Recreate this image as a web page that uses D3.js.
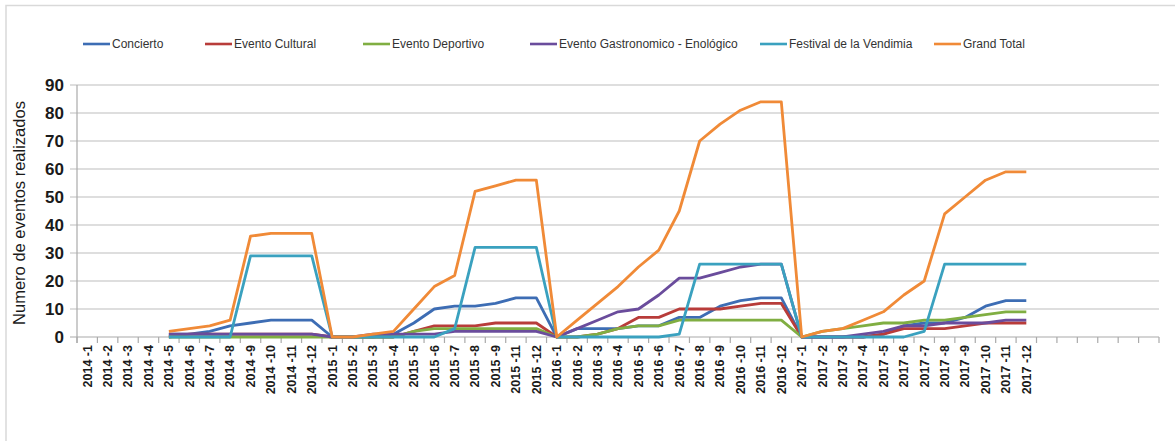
<!DOCTYPE html>
<html lang="es">
<head>
  <meta charset="UTF-8">
  <title>Eventos realizados</title>
  <style>
    html, body {
      margin: 0;
      padding: 0;
      background-color: #fff;
    }

    .grid line {
      stroke: rgb(190, 190, 190);
      stroke-width: 1.2;
    }

    .axis-line {
      stroke: rgb(170, 170, 170);
      stroke-width: 1.2;
    }

    .y-labels text {
      font-family: "Liberation Sans", Arial, sans-serif;
      font-size: 17px;
      font-weight: bold;
      fill: #1a1a1a;
    }

    .x-labels text {
      font-family: "Liberation Sans", Arial, sans-serif;
      font-size: 12.5px;
      font-weight: bold;
      fill: #1a1a1a;
    }

    .legend text {
      font-family: "Liberation Sans", Arial, sans-serif;
      font-size: 12px;
      fill: #333;
    }

    .series {
      fill: none;
      stroke-width: 2.8;
      stroke-linejoin: round;
    }
  </style>
</head>
<body>
  <script src="https://cdn.jsdelivr.net/npm/d3@7/dist/d3.min.js"></script>
  <script>
    // categories (Excel month labels), 2015-10 is missing in the source
    const months2014 = ['2014 -1', '2014 -2', '2014 -3', '2014 -4', '2014 -5', '2014 -6', '2014 -7', '2014 -8', '2014 -9', '2014 -10', '2014 -11', '2014 -12']
    const months2015 = ['2015 -1', '2015 -2', '2015 -3', '2015 -4', '2015 -5', '2015 -6', '2015 -7', '2015 -8', '2015 -9', '2015 -11', '2015 -12']
    const months2016 = ['2016 -1', '2016 -2', '2016 -3', '2016 -4', '2016 -5', '2016 -6', '2016 -7', '2016 -8', '2016 -9', '2016 -10', '2016 -11', '2016 -12']
    const months2017 = ['2017 -1', '2017 -2', '2017 -3', '2017 -4', '2017 -5', '2017 -6', '2017 -7', '2017 -8', '2017 -9', '2017 -10', '2017 -11', '2017 -12']
    const emptyMonths = ['', '', '', '', '', '']
    const categories = [...months2014, ...months2015, ...months2016, ...months2017, ...emptyMonths]

    const yTicks = [0, 10, 20, 30, 40, 50, 60, 70, 80, 90]

    const seriesNames = ['Concierto', 'Evento Cultural', 'Evento Deportivo', 'Evento Gastronomico - Enológico', 'Festival de la Vendimia', 'Grand Total']

    // values per series, null = no data (2014-1 .. 2014-4)
    const n = null
    const concierto = [n, n, n, n, 1, 1, 2, 4, 5, 6, 6, 6,
      0, 0, 0, 1, 5, 10, 11, 11, 12, 14, 14,
      0, 3, 3, 3, 4, 4, 7, 7, 11, 13, 14, 14,
      0, 0, 0, 0, 1, 4, 5, 5, 7, 11, 13, 13]
    const eventoCultural = [n, n, n, n, 0, 1, 1, 1, 1, 1, 1, 1,
      0, 0, 0, 0, 2, 4, 4, 4, 5, 5, 5,
      0, 0, 1, 3, 7, 7, 10, 10, 10, 11, 12, 12,
      0, 0, 0, 0, 1, 3, 3, 3, 4, 5, 5, 5]
    const eventoDeportivo = [n, n, n, n, 0, 0, 0, 0, 0, 0, 0, 0,
      0, 0, 0, 0, 2, 3, 3, 3, 3, 3, 3,
      0, 0, 1, 3, 4, 4, 6, 6, 6, 6, 6, 6,
      0, 2, 3, 4, 5, 5, 6, 6, 7, 8, 9, 9]
    const eventoGastronomico = [n, n, n, n, 1, 1, 1, 1, 1, 1, 1, 1,
      0, 0, 1, 1, 1, 1, 2, 2, 2, 2, 2,
      0, 3, 6, 9, 10, 15, 21, 21, 23, 25, 26, 26,
      0, 0, 0, 1, 2, 4, 4, 5, 5, 5, 6, 6]
    const festivalVendimia = [n, n, n, n, 0, 0, 0, 0, 29, 29, 29, 29,
      0, 0, 0, 0, 0, 0, 3, 32, 32, 32, 32,
      0, 0, 0, 0, 0, 0, 1, 26, 26, 26, 26, 26,
      0, 0, 0, 0, 0, 0, 2, 26, 26, 26, 26, 26]
    const grandTotal = [n, n, n, n, 2, 3, 4, 6, 36, 37, 37, 37,
      0, 0, 1, 2, 10, 18, 22, 52, 54, 56, 56,
      0, 6, 12, 18, 25, 31, 45, 70, 76, 81, 84, 84,
      0, 2, 3, 6, 9, 15, 20, 44, 50, 56, 59, 59]

    const seriesValues = [concierto, eventoCultural, eventoDeportivo, eventoGastronomico, festivalVendimia, grandTotal]
    const seriesColors = ['#3d6db4', '#b83c3a', '#80ae42', '#6a4c9c', '#3aa1bf', '#f08a37']

    const width = 1175,
          height = 441,
          margin = { top: 85, right: 16, bottom: 104, left: 77 }

    const svg = d3.select('body')
      .append('svg')
      .attr('width', width)
      .attr('height', height)

    // faint frame of the Excel chart area
    svg.append('path')
      .attr('d', `M6,${height} V5.5 H${width}`)
      .attr('fill', 'none')
      .attr('stroke', '#d9d9d9')
      .attr('stroke-width', 1.5)

    const x = d3.scaleBand()
      .domain(d3.range(categories.length))
      .range([margin.left, width - margin.right])
      .padding(0)

    const y = d3.scaleLinear()
      .domain([0, 90])
      .range([height - margin.bottom, margin.top])

    // gridlines, extending a little left of the axis as tick marks
    svg.append('g')
      .attr('class', 'grid')
      .selectAll('line')
      .data(yTicks.slice(1))
      .join('line')
        .attr('x1', margin.left - 7)
        .attr('x2', width - margin.right)
        .attr('y1', d => y(d))
        .attr('y2', d => y(d))

    // y labels
    svg.append('g')
      .attr('class', 'y-labels')
      .attr('transform', `translate(${margin.left - 13},0)`)
      .call(d3.axisLeft(y).tickValues(yTicks).tickSize(0).tickPadding(0))
      .call(g => g.select('.domain').remove())

    // axes lines
    svg.append('line')
      .attr('class', 'axis-line')
      .attr('x1', margin.left).attr('x2', margin.left)
      .attr('y1', y(90)).attr('y2', y(0) + 6)
    svg.append('line')
      .attr('class', 'axis-line')
      .attr('x1', margin.left - 7).attr('x2', width - margin.right)
      .attr('y1', y(0)).attr('y2', y(0))

    // category tick marks at band boundaries
    svg.append('g')
      .selectAll('line')
      .data(d3.range(categories.length + 1))
      .join('line')
        .attr('class', 'axis-line')
        .attr('x1', i => margin.left + i * x.step())
        .attr('x2', i => margin.left + i * x.step())
        .attr('y1', y(0))
        .attr('y2', y(0) + 6)

    // category labels, rotated
    svg.append('g')
      .attr('class', 'x-labels')
      .attr('transform', `translate(0,${y(0)})`)
      .call(d3.axisBottom(x).tickSize(0).tickFormat(i => categories[i]))
      .call(g => g.select('.domain').remove())
      .selectAll('text')
        .attr('transform', 'rotate(-90)')
        .attr('text-anchor', 'end')
        .attr('x', -8)
        .attr('y', 0)
        .attr('dy', '0.35em')

    // y axis title
    svg.append('text')
      .attr('transform', `translate(25,${(y(0) + y(90)) / 2 + 2}) rotate(-90)`)
      .attr('text-anchor', 'middle')
      .style('font-family', '"Liberation Sans", Arial, sans-serif')
      .style('font-size', '16.5px')
      .style('fill', '#1a1a1a')
      .text('Numero de eventos realizados')

    // lines
    const line = d3.line()
      .defined(d => d != null)
      .x((d, i) => x(i) + x.bandwidth() / 2)
      .y(d => y(d))

    svg.append('g')
      .selectAll('path')
      .data(seriesValues)
      .join('path')
        .attr('class', 'series')
        .attr('stroke', (d, i) => seriesColors[i])
        .attr('d', line)

    // legend
    const legendX = [83, 205, 363, 530, 760, 934]
    const legend = svg.append('g')
      .attr('class', 'legend')
      .selectAll('g')
      .data(seriesNames)
      .join('g')
        .attr('transform', (d, i) => `translate(${legendX[i]},44)`)

    legend.append('line')
      .attr('x1', 0).attr('x2', 27)
      .attr('stroke', (d, i) => seriesColors[i])
      .attr('stroke-width', 2.6)

    legend.append('text')
      .attr('x', 29)
      .attr('dy', '0.35em')
      .text(d => d)
  </script>
</body>
</html>
